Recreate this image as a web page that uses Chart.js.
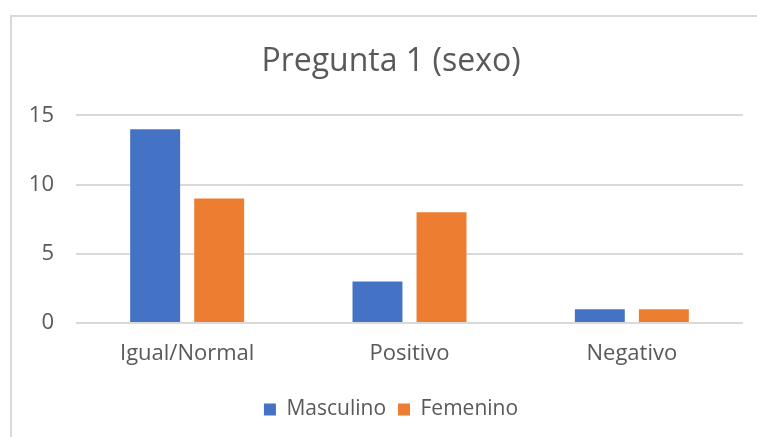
<!DOCTYPE html>
<html>
<head>
<meta charset="utf-8">
<script src="https://cdn.jsdelivr.net/npm/chart.js@4"></script>
<style>
  html, body { margin: 0; padding: 0; background: #fff; overflow: hidden; }
  #frame { position: absolute; left: 10px; top: 15px; width: 800px; height: 500px; border: 2px solid #d9d9d9; }
  #wrap { position: absolute; left: 0; top: 0; width: 797px; height: 437px; }
</style>
</head>
<body>
<div id="frame"></div>
<div id="wrap"><canvas id="chart"></canvas></div>
<script>
// Chart data
const categories = ['Igual/Normal', 'Positivo', 'Negativo'];
const masculino = [14, 3, 1];
const femenino = [9, 8, 1];
const chartTitle = 'Pregunta 1 (sexo)';

const textColor = '#595959';
const fontFamily = '"Open Sans", sans-serif';

const ctx = document.getElementById('chart').getContext('2d');
new Chart(ctx, {
    type: 'bar',
    data: {
        labels: categories,
        datasets: [
            { label: 'Masculino', data: masculino, backgroundColor: '#4472C4' },
            { label: 'Femenino', data: femenino, backgroundColor: '#ED7D31' }
        ]
    },
    options: {
        responsive: true,
        maintainAspectRatio: false,
        animation: false,
        categoryPercentage: 0.576,
        barPercentage: 0.78,
        layout: { padding: { left: 0, right: 15, top: 31, bottom: 7 } },
        scales: {
            x: {
                grid: { display: false },
                border: { display: false },
                ticks: { color: textColor, font: { family: fontFamily, size: 22 }, padding: 10 },
                afterFit: (scale) => { scale.height = 64; }
            },
            y: {
                min: 0,
                max: 15,
                ticks: { stepSize: 5, color: textColor, font: { family: fontFamily, size: 22 }, padding: 22 },
                grid: { color: '#d9d9d9', lineWidth: 2, drawTicks: false },
                border: { display: false },
                afterFit: (scale) => { scale.width = 76; }
            },
            // empty right-hand axis so title and legend sit centred on the frame
            yRight: {
                position: 'right',
                min: 0,
                max: 1,
                ticks: { display: false },
                grid: { display: false },
                border: { display: false },
                afterFit: (scale) => { scale.width = 39; }
            }
        },
        plugins: {
            title: {
                display: true,
                text: chartTitle,
                color: textColor,
                font: { family: fontFamily, size: 32, weight: 'normal' },
                padding: { top: 12, bottom: 34 }
            },
            legend: {
                position: 'bottom',
                labels: {
                    color: textColor,
                    font: { family: fontFamily, size: 21 },
                    boxWidth: 12,
                    boxHeight: 12,
                    padding: 12
                }
            },
            tooltip: { enabled: false }
        }
    }
});
</script>
</body>
</html>
